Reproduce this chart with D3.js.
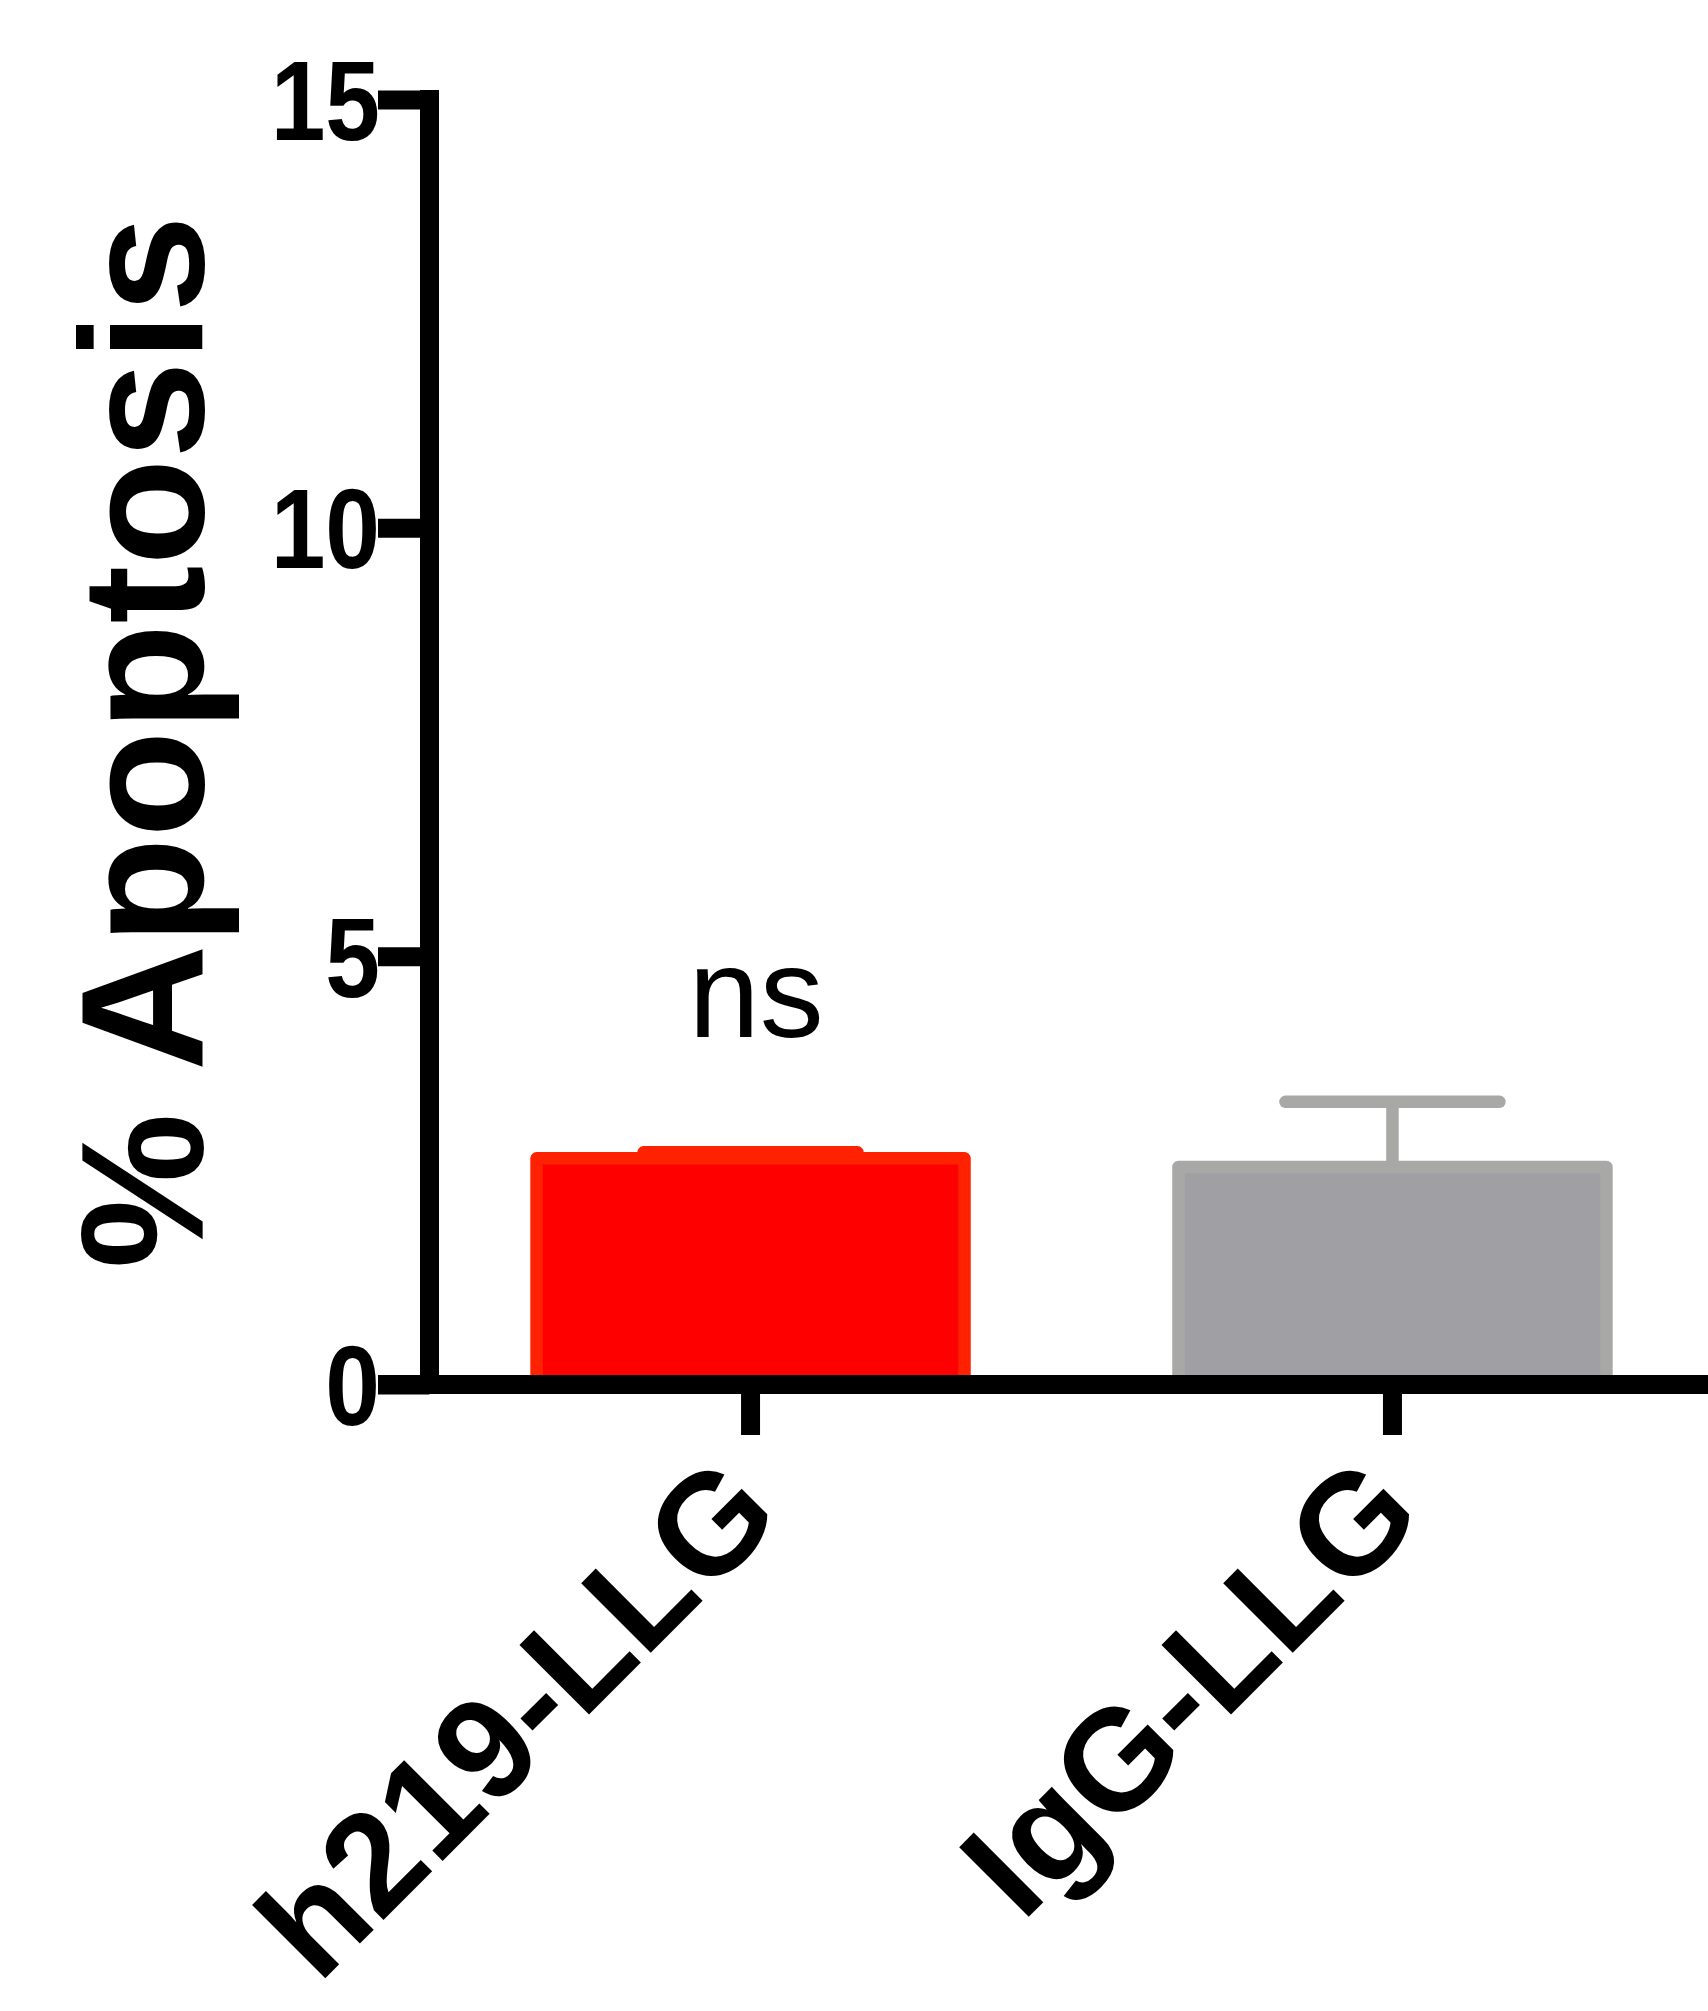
<!DOCTYPE html>
<html>
<head>
<meta charset="utf-8">
<script src="https://cdn.jsdelivr.net/npm/d3@7/dist/d3.min.js"></script>
<style>
  html, body { margin: 0; padding: 0; background: #ffffff; }
  svg { display: block; }
  text { font-family: "Liberation Sans", Arial, Helvetica, sans-serif; }
</style>
</head>
<body>
<svg id="chart" width="1708" height="2011"></svg>
<script>
// ---- data ----
const categories = ["h219-LLG", "IgG-LLG"];
const means = [2.64, 2.54];
const sems = [0.07, 0.76];
const fillColors = ["#ff0000", "#a09fa4"];
const strokeColors = ["#ff2200", "#a8a8a6"];
const yTicks = [0, 5, 10, 15];
const yTitle = "% Apoptosis";
const annotation = "ns";

// ---- layout ----
const svg = d3.select("#chart");
const axisX = 429.5;     // y-axis line position
const axisY = 1384.5;    // x-axis line position
const axisW = 19;

const y = d3.scaleLinear().domain([0, 15]).range([axisY, 99.5]);
const x = d3.scaleBand().domain(categories)
  .range([430, 1713]).paddingInner(1 / 3).paddingOuter(0.166);

// bars
const bars = svg.append("g");
categories.forEach((c, i) => {
  bars.append("rect")
    .attr("x", x(c))
    .attr("y", y(means[i]))
    .attr("width", x.bandwidth())
    .attr("height", y(0) - y(means[i]))
    .attr("fill", fillColors[i])
    .attr("stroke", strokeColors[i])
    .attr("stroke-width", 12.5)
    .attr("stroke-linejoin", "round");
  const cx = x(c) + x.bandwidth() / 2;
  const top = y(means[i] + sems[i]);
  bars.append("line")
    .attr("x1", cx).attr("x2", cx)
    .attr("y1", y(means[i])).attr("y2", top)
    .attr("stroke", strokeColors[i]).attr("stroke-width", 12.5);
  bars.append("line")
    .attr("x1", cx - x.bandwidth() / 4).attr("x2", cx + x.bandwidth() / 4)
    .attr("y1", top).attr("y2", top)
    .attr("stroke", strokeColors[i]).attr("stroke-width", 12.5)
    .attr("stroke-linecap", "round");
});

// y axis
const yAxis = d3.axisLeft(y).tickValues(yTicks).tickSize(51.5).tickSizeOuter(0).tickPadding(0);
const gy = svg.append("g").attr("transform", `translate(${axisX},0)`).call(yAxis);
gy.select(".domain").remove();
gy.selectAll(".tick line").attr("stroke", "#000").attr("stroke-width", axisW);
gy.selectAll(".tick text")
  .attr("x", 0)
  .attr("transform", `translate(${380 - axisX},0) scale(0.87,1)`)
  .attr("dy", "0.355em")
  .attr("font-size", 113)
  .attr("font-weight", "bold")
  .attr("fill", "#000")
  .style("font-family", "'Liberation Sans', Arial, sans-serif");
svg.append("line")
  .attr("x1", axisX).attr("x2", axisX)
  .attr("y1", y(15) - axisW / 2).attr("y2", axisY + axisW / 2)
  .attr("stroke", "#000").attr("stroke-width", axisW);

// x axis
const xAxis = d3.axisBottom(x).tickSize(50.5).tickSizeOuter(0).tickFormat("");
const gx = svg.append("g").attr("transform", `translate(0,${axisY})`).call(xAxis);
gx.select(".domain").remove();
gx.selectAll(".tick line").attr("stroke", "#000").attr("stroke-width", axisW);
svg.append("line")
  .attr("x1", 378).attr("x2", 1708)
  .attr("y1", axisY).attr("y2", axisY)
  .attr("stroke", "#000").attr("stroke-width", axisW);

// x labels
svg.append("g").selectAll("text").data(categories).join("text")
  .attr("transform", d => `translate(${x(d) + x.bandwidth() / 2 + 34},1519) rotate(-45)`)
  .attr("text-anchor", "end")
  .attr("font-size", 143)
  .attr("font-weight", "bold")
  .attr("fill", "#000")
  .text(d => d);

// y title
svg.append("text")
  .attr("transform", `translate(203,${(y(0) + y(15)) / 2}) rotate(-90)`)
  .attr("text-anchor", "middle")
  .attr("font-size", 175)
  .attr("font-weight", "bold")
  .attr("fill", "#000")
  .text(yTitle);

// annotation
svg.append("text")
  .attr("x", x(categories[0]) + x.bandwidth() / 2 + 5.5)
  .attr("y", 1037)
  .attr("text-anchor", "middle")
  .attr("font-size", 128)
  .attr("fill", "#000")
  .text(annotation);
</script>
</body>
</html>
